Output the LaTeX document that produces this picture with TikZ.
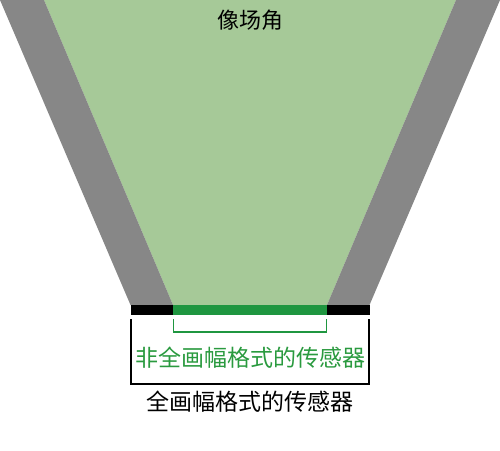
\documentclass[tikz,border=0pt]{standalone}
\usepackage{fontspec}
\setmainfont{Noto Sans CJK SC}
\usetikzlibrary{positioning}
\definecolor{fovgreen}{HTML}{A6C998}
\definecolor{bandgray}{HTML}{878787}
\definecolor{sensgreen}{HTML}{1F9640}
\definecolor{labgreen}{HTML}{2A9A3F}
\tikzset{
  band/.style={fill=bandgray, draw=none},
  bracket/.style={line width=1.3pt}
}

\begin{document}
\begin{tikzpicture}[x=1pt, y=-1pt]
            \useasboundingbox (0,0) rectangle (500,450);

            % field of view and the two gray borders
            \fill[fovgreen] (44,0) -- (456,0) -- (327,305) -- (173,305) -- cycle;
            \fill[band] (0,0) -- (44,0) -- (173,305) -- (130.5,305) -- cycle;
            \fill[band] (456,0) -- (500,0) -- (369.5,305) -- (327,305) -- cycle;

            % sensor bar
            \fill[black] (130.5,305) rectangle (369.5,314.5);
            \fill[sensgreen] (173,305) rectangle (327,314.5);

            \draw(250,20) node (fov) {\fontsize{22pt}{22pt}\selectfont 像场角};

            % brackets
            \coordinate (gl) at (173.5,319);
            \coordinate (gr) at (326.5,319);
            \coordinate (bl) at (131,319);
            \coordinate (br) at (369,319);
            \draw[bracket, sensgreen] (gl) -- ++(0,13) -| (gr);
            \draw[bracket, black] (bl) -- ++(0,65) -| (br);

            \draw(250,358) node[text=labgreen] (crop) {\fontsize{23pt}{23pt}\selectfont 非全画幅格式的传感器};
            \draw(250,402) node (full) {\fontsize{23pt}{23pt}\selectfont 全画幅格式的传感器};

        \end{tikzpicture}
\end{document}
